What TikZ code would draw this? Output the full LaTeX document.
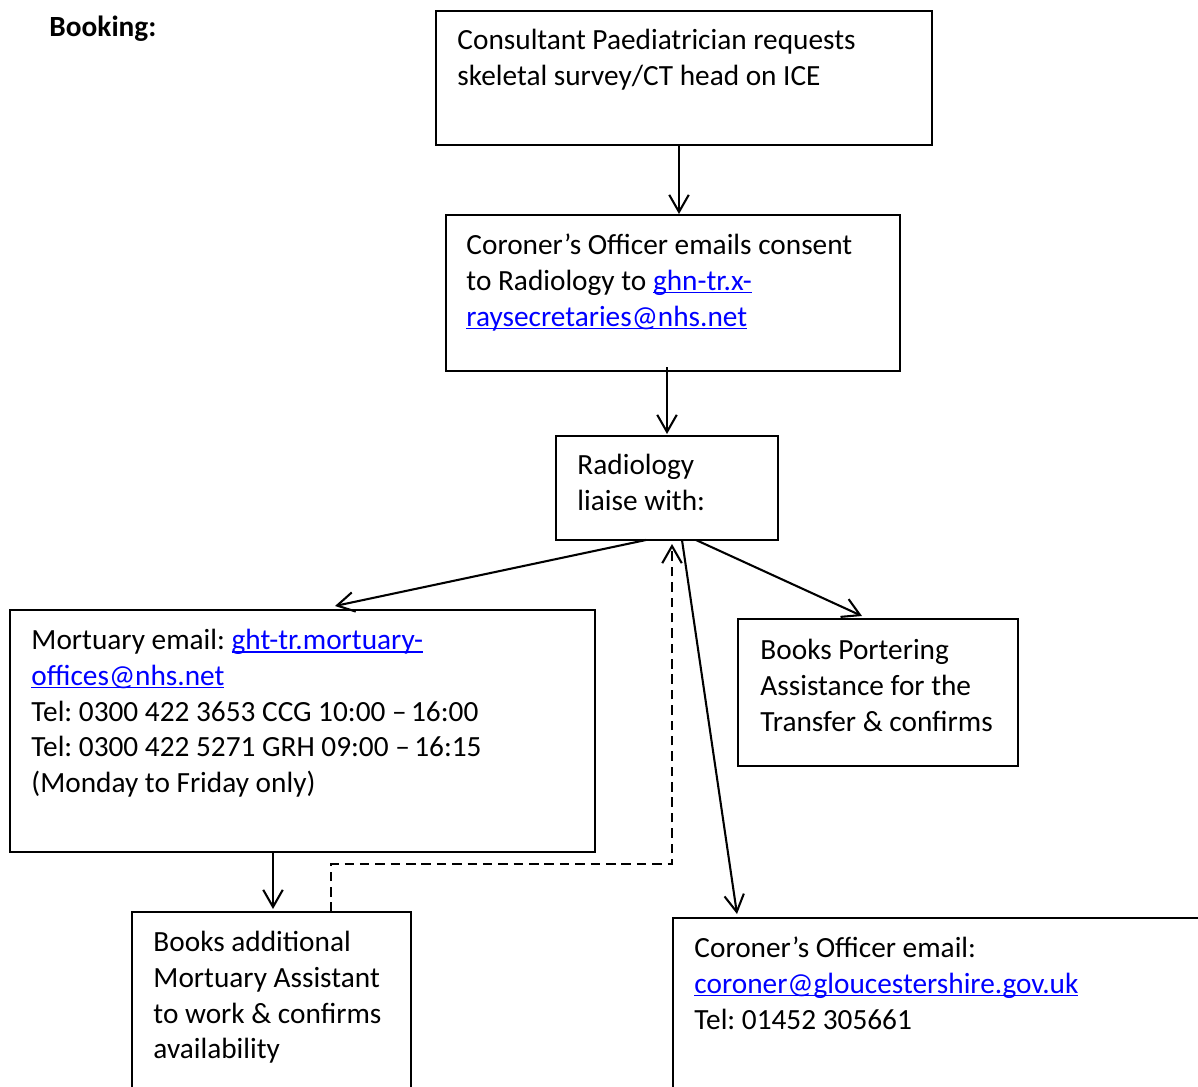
\documentclass[tikz,border=0pt]{standalone}
\usepackage{fontspec}
\setmainfont{Carlito}
\usetikzlibrary{arrows.meta,fit}
\newlength\px \setlength\px{0.4096pt}
\definecolor{linkblue}{RGB}{0,0,255}
\newcommand\lnk[1]{\textcolor{linkblue}{\setbox0\hbox{#1}\rlap{\rule[-1.3pt]{\wd0}{0.65pt}}\box0}}
\frenchspacing
\tikzset{
  boxst/.style={draw, line width=0.85pt, inner sep=0pt, outer sep=0pt},
  txt/.style={font=\fontsize{12}{14.65}\selectfont, align=left, inner sep=0pt, anchor=north west},
  arr/.style={-{Straight Barb[length=7pt,width=8pt]}, line width=0.85pt},
  dsh/.style={line width=0.9pt, dash pattern=on 3.9pt off 2.4pt}
}
\begin{document}
\begin{tikzpicture}[x=0.4096pt,y=-0.4096pt]
\useasboundingbox (0,0) rectangle (1198,1087);
\clip (0,0) rectangle (1198,1087);
\fill[white] (0,0) rectangle (1198,1087);
% boxes
\node[boxst, fit={(436,11)(932,145)}] (b1) {};
\node[boxst, fit={(446,215)(900,371)}] (b2) {};
\node[boxst, fit={(556,436)(778,540)}] (b3) {};
\node[boxst, fit={(10,610)(595,852)}] (b4) {};
\node[boxst, fit={(738,619)(1018,766)}] (b5) {};
\node[boxst, fit={(132,912)(411,1110)}] (b6) {};
\node[boxst, fit={(673,918)(1220,1110)}] (b7) {};
% texts
\node[txt] (title) at (49,11) {\strut\textbf{Booking:}};
\node[txt] (t1) at (457,24) {\strut Consultant Paediatrician requests\\skeletal survey/CT head on ICE};
\node[txt] (t2) at (466,229) {\strut Coroner’s Officer emails consent\\to Radiology to \lnk{ghn-tr.x-}\\\lnk{raysecretaries@nhs.net}};
\node[txt] (t3) at (577,449) {\strut Radiology\\liaise with:};
\node[txt] (t4) at (31,624) {\strut Mortuary email: \lnk{ght-tr.mortuary-}\\\lnk{offices@nhs.net}\\Tel: 0300 422 3653 CCG 10:00 –\hspace{0.15em}16:00\\Tel: 0300 422 5271 GRH 09:00 –\hspace{0.15em}16:15\\(Monday to Friday only)};
\node[txt] (t5) at (760,634) {\strut Books Portering\\Assistance for the\\Transfer \& confirms};
\node[txt] (t6) at (153,926) {\strut Books additional\\Mortuary Assistant\\to work \& confirms\\availability};
\node[txt] (t7) at (694,932) {\strut Coroner’s Officer email:\\\lnk{coroner@gloucestershire.gov.uk}\\Tel: 01452 305661};
% connectors
\draw[arr] ([xshift=243\px]b1.south west) -- ([xshift=233\px,yshift=1\px]b2.north west);
\draw[arr] ([xshift=221\px,yshift=4\px]b2.south west) -- ([xshift=111\px,yshift=2\px]b3.north west);
\draw[arr] ([xshift=90\px]b3.south west) -- ([xshift=325\px,yshift=4\px]b4.north west);
\draw[arr] ([xshift=140\px]b3.south west) -- ([xshift=124\px,yshift=3\px]b5.north west);
\draw[arr] ([xshift=126\px]b3.south west) -- ([xshift=64\px,yshift=4\px]b7.north west);
\draw[arr] ([xshift=263\px]b4.south west) -- ([xshift=141\px,yshift=3\px]b6.north west);
\draw[dsh,arr] ([xshift=199\px]b6.north west) |- ([xshift=116\px,yshift=-324\px]b3.south west) -- ([xshift=116\px,yshift=-4\px]b3.south west);
\end{tikzpicture}
\end{document}
